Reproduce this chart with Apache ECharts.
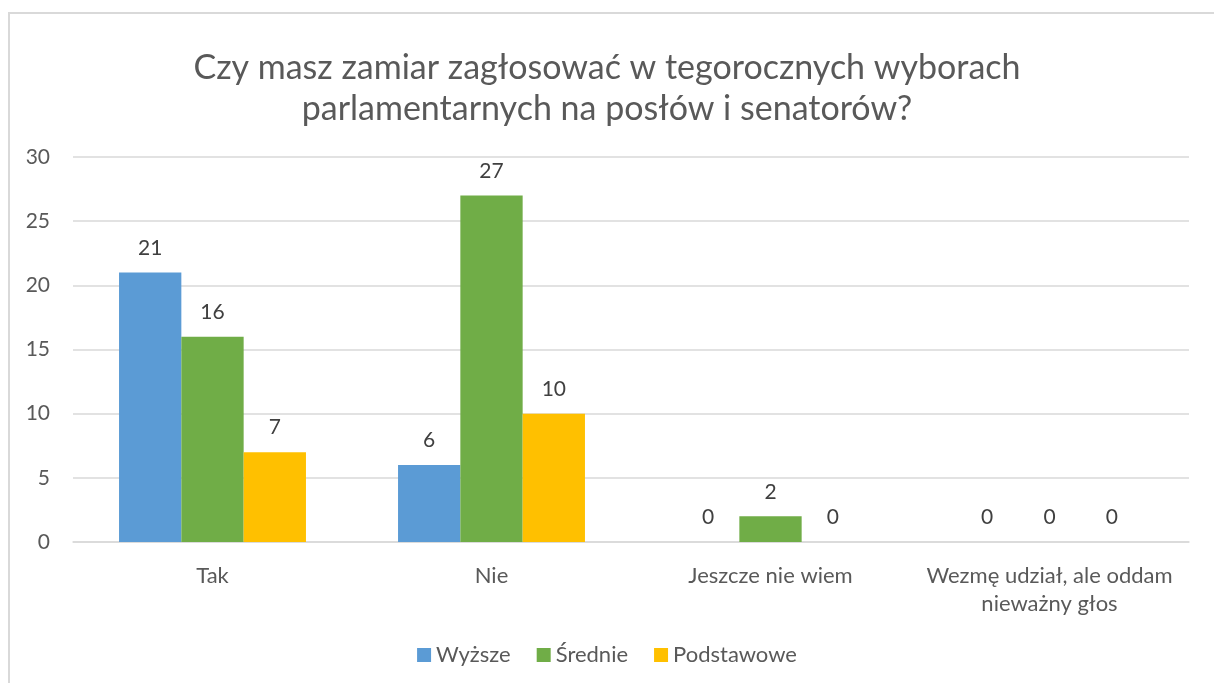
<!DOCTYPE html>
<html>
<head>
<meta charset="utf-8">
<script src="https://cdn.jsdelivr.net/npm/echarts@6/dist/echarts.min.js"></script>
<style>
  html, body { margin: 0; padding: 0; overflow: hidden; background: #fff; }
  .frame { position: absolute; left: 8px; top: 12px; width: 1230px; height: 700px; border: 2px solid #d9d9d9; }
  #ec { position: absolute; left: 0; top: 0; width: 1214px; height: 683px; }
</style>
</head>
<body>
<div class="frame"></div>
<div id="ec"></div>
<script>
  const categories = ['Tak', 'Nie', 'Jeszcze nie wiem', 'Wezmę udział, ale oddam\nnieważny głos']
  const seriesNames = ['Wyższe', 'Średnie', 'Podstawowe']
  const wyzsze = [21, 6, 0, 0]
  const srednie = [16, 27, 2, 0]
  const podstawowe = [7, 10, 0, 0]
  const colors = ['#5B9BD5', '#70AD47', '#FFC000']
  const font = 'Lato, "Open Sans", sans-serif'

  const ec = echarts.init(document.getElementById('ec'))
  const makeSeries = (name, data, i) => ({
    name: name,
    type: 'bar',
    data: data,
    barGap: '0%',
    barCategoryGap: '33%',
    itemStyle: { color: colors[i] },
    label: {
      show: true,
      position: 'top',
      distance: 14,
      color: '#404040',
      fontSize: 21,
      fontFamily: font
    }
  })

  ec.setOption({
    textStyle: { fontFamily: font },
    title: {
      text: 'Czy masz zamiar zagłosować w tegorocznych wyborach\nparlamentarnych na posłów i senatorów?',
      left: 'center',
      top: 43,
      textStyle: {
        color: '#595959',
        fontSize: 34,
        fontWeight: 'normal',
        lineHeight: 41,
        fontFamily: font
      }
    },
    legend: {
      bottom: 12,
      left: 'center',
      icon: 'rect',
      itemWidth: 14,
      itemHeight: 14,
      itemGap: 26,
      textStyle: { color: '#595959', fontSize: 22, fontFamily: font },
      data: seriesNames
    },
    grid: {
      left: 73,
      right: 25,
      top: 157,
      bottom: 141
    },
    xAxis: {
      type: 'category',
      data: categories,
      axisLine: { lineStyle: { color: '#d9d9d9', width: 1.5 } },
      axisTick: { show: false },
      axisLabel: {
        color: '#595959',
        fontSize: 22,
        margin: 20,
        lineHeight: 28,
        interval: 0,
        fontFamily: font
      }
    },
    yAxis: {
      type: 'value',
      min: 0,
      max: 30,
      interval: 5,
      axisLine: { show: false },
      axisTick: { show: false },
      axisLabel: { color: '#595959', fontSize: 21, margin: 23, fontFamily: font },
      splitLine: { lineStyle: { color: '#d9d9d9', width: 1.5 } }
    },
    series: [
      makeSeries(seriesNames[0], wyzsze, 0),
      makeSeries(seriesNames[1], srednie, 1),
      makeSeries(seriesNames[2], podstawowe, 2)
    ]
  })
</script>
</body>
</html>
